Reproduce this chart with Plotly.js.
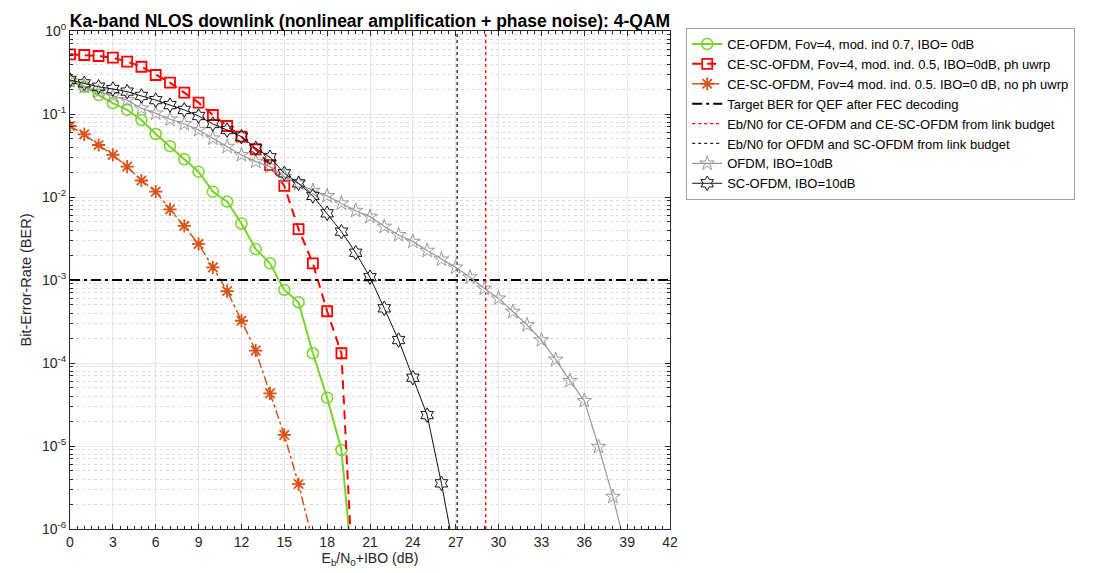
<!DOCTYPE html>
<html>
<head>
<meta charset="utf-8">
<script src="https://cdn.plot.ly/plotly-3.0.1.min.js"></script>
<style>
html,body{margin:0;padding:0;background:#fff;}
#chart{width:1100px;height:573px;}
</style>
</head>
<body>
<div id="chart"></div>
<script>
// ---- data ----
const ceOfdmX = [0,1,2,3,4,5,6,7,8,9,10,11,12,13,14,15,16,17,18,19,20];
const ceOfdmY = [0.25,0.213,0.169,0.135,0.112,0.0847,0.0574,0.041,0.0285,0.0202,0.0116,0.0088,0.0048,0.00236,0.00159,0.00076,0.00054,0.000131,3.82e-5,8.95e-6,1.2e-7];

const ceScPhX = [0,1,2,3,4,5,6,7,8,9,10,11,12,13,14,15,16,17,18,19,20];
const ceScPhY = [0.524,0.514,0.50,0.477,0.427,0.371,0.295,0.239,0.181,0.137,0.0973,0.0717,0.0533,0.0376,0.0243,0.0136,0.0041,0.00159,0.00042,0.000131,5e-8];

const ceScNoPhX = [0,1,2,3,4,5,6,7,8,9,10,11,12,13,14,15,16,17];
const ceScNoPhY = [0.0717,0.0569,0.0423,0.0321,0.0232,0.0158,0.0116,0.0071,0.00448,0.00272,0.00142,0.000736,0.000323,0.000141,4.31e-5,1.36e-5,3.48e-6,7e-7];

const targetX = [0, 42];
const targetY = [1e-3, 1e-3];

const ebn0CeX = [29.1, 29.1];
const ebn0OfdmX = [27.1, 27.1];
const vlineY = [1e-6, 1];

const ofdmX = [0,1,2,3,4,5,6,7,8,9,10,11,12,13,14,15,16,17,18,19,20,21,22,23,24,25,26,27,28,29,30,31,32,33,34,35,36,37,38,39];
const ofdmY = [0.25,0.213,0.186,0.165,0.147,0.117,0.102,0.0863,0.0758,0.0641,0.0509,0.0404,0.0321,0.0267,0.0232,0.0176,0.0146,0.0119,0.0103,0.0084,0.00684,0.0058,0.0044,0.00349,0.0029,0.00226,0.00177,0.00142,0.00108,0.00079,0.0006,0.000415,0.000287,0.000189,0.00011,6.1e-5,3.5e-5,9.8e-6,2.45e-6,5e-7];

const scOfdmX = [0,1,2,3,4,5,6,7,8,9,10,11,12,13,14,15,16,17,18,19,20,21,22,23,24,25,26,27];
const scOfdmY = [0.257,0.234,0.213,0.2,0.186,0.165,0.147,0.128,0.112,0.0946,0.0758,0.0641,0.0533,0.0386,0.0301,0.0193,0.0146,0.0103,0.00636,0.00382,0.00213,0.00108,0.000456,0.000189,6.65e-5,2.36e-5,3.55e-6,4.3e-7];

const seriesNames = [
  'CE-OFDM, Fov=4, mod. ind 0.7, IBO= 0dB',
  'CE-SC-OFDM, Fov=4, mod. ind. 0.5, IBO=0dB, ph uwrp',
  'CE-SC-OFDM, Fov=4 mod. ind. 0.5. IBO=0 dB, no ph uwrp',
  'Target BER for QEF after FEC decoding',
  'Eb/N0 for CE-OFDM and CE-SC-OFDM from link budget',
  'Eb/N0 for OFDM and SC-OFDM from link budget',
  'OFDM, IBO=10dB',
  'SC-OFDM, IBO=10dB'
];

const xTickVals = [0,3,6,9,12,15,18,21,24,27,30,33,36,39,42];
const yTickVals = [1e-6,1e-5,1e-4,1e-3,1e-2,1e-1,1];
const yTickText = ['10<sup>-6</sup>','10<sup>-5</sup>','10<sup>-4</sup>','10<sup>-3</sup>','10<sup>-2</sup>','10<sup>-1</sup>','10<sup>0</sup>'];

// ---- traces ----
const traces = [
  {x: ceOfdmX, y: ceOfdmY, name: seriesNames[0], mode: 'lines+markers',
   line: {color: '#77d42a', width: 2},
   marker: {symbol: 'circle-open', size: 11, color: '#77d42a', line: {width: 1.5, color: '#77d42a'}}},
  {x: ceScPhX, y: ceScPhY, name: seriesNames[1], mode: 'lines+markers',
   line: {color: '#ff0000', width: 2, dash: '9px,6px'},
   marker: {symbol: 'square-open', size: 10, color: '#ff0000', line: {width: 1.8, color: '#ff0000'}}},
  {x: ceScNoPhX, y: ceScNoPhY, name: seriesNames[2], mode: 'lines+markers',
   line: {color: '#d95319', width: 1.5, dash: 'dashdot'},
   marker: {symbol: 'asterisk-open', size: 11, color: '#d95319', line: {width: 1.8, color: '#d95319'}}},
  {x: targetX, y: targetY, name: seriesNames[3], mode: 'lines',
   line: {color: '#000000', width: 2, dash: '10px,4px,3px,4px'}},
  {x: ebn0CeX, y: vlineY, name: seriesNames[4], mode: 'lines',
   line: {color: '#ff0000', width: 1.3, dash: 'dot'}},
  {x: ebn0OfdmX, y: vlineY, name: seriesNames[5], mode: 'lines',
   line: {color: '#222222', width: 1.3, dash: 'dot'}},
  {x: ofdmX, y: ofdmY, name: seriesNames[6], mode: 'lines+markers',
   line: {color: '#999999', width: 1.2},
   marker: {symbol: 'star-open', size: 11, color: '#999999', line: {width: 1, color: '#999999'}}},
  {x: scOfdmX, y: scOfdmY, name: seriesNames[7], mode: 'lines+markers',
   line: {color: '#111111', width: 1},
   marker: {symbol: 'hexagram-open', size: 11, color: '#111111', line: {width: 1, color: '#111111'}}}
];

const fontFam = '"Liberation Sans", Arial, Helvetica, sans-serif';

const layout = {
  width: 1100, height: 573,
  margin: {l: 70, r: 430, t: 31, b: 44},
  paper_bgcolor: '#ffffff',
  plot_bgcolor: '#ffffff',
  font: {family: fontFam, size: 12, color: '#262626'},
  title: {text: '<b>Ka-band NLOS downlink (nonlinear amplification + phase noise): 4-QAM</b>',
          font: {family: fontFam, size: 17.5, color: '#000000'},
          x: 0.5, xref: 'paper', xanchor: 'center', y: 1, yref: 'paper', yanchor: 'bottom', pad: {b: 4}},
  xaxis: {
    range: [0, 42], tickvals: xTickVals, ticks: 'inside', ticklen: 5, tickcolor: '#262626',
    showline: true, linecolor: '#262626', linewidth: 1, mirror: 'ticks',
    showgrid: true, gridcolor: '#e6e6e6', gridwidth: 1, zeroline: false,
    tickfont: {size: 14, color: '#262626'},
    minor: {dtick: 0.5, ticks: 'inside', ticklen: 3, tickcolor: '#262626', showgrid: false},
    title: {text: 'E<sub>b</sub>/N<sub>0</sub>+IBO (dB)', font: {size: 14, color: '#262626'}, standoff: 4}
  },
  yaxis: {
    type: 'log', range: [-6, 0], tickvals: yTickVals, ticktext: yTickText,
    ticks: 'inside', ticklen: 5, tickcolor: '#262626',
    showline: true, linecolor: '#262626', linewidth: 1, mirror: 'ticks',
    showgrid: true, gridcolor: '#e6e6e6', gridwidth: 1, zeroline: false,
    tickfont: {size: 14, color: '#262626'},
    minor: {dtick: 'D1', ticks: 'inside', ticklen: 3, tickcolor: '#262626', showgrid: true, gridcolor: '#dcdcdc', griddash: 'dot', gridwidth: 1},
    title: {text: 'Bit-Error-Rate (BER)', font: {size: 14.5, color: '#262626'}, standoff: 6}
  },
  showlegend: true,
  legend: {
    x: 1.027, xanchor: 'left', y: 1.006, yanchor: 'top',
    bgcolor: '#ffffff', bordercolor: '#a0a0a0', borderwidth: 1,
    font: {family: fontFam, size: 13, color: '#000000'},
    tracegroupgap: 0, itemwidth: 30
  }
};

Plotly.newPlot('chart', traces, layout, {displayModeBar: false, staticPlot: true});
</script>
</body>
</html>
